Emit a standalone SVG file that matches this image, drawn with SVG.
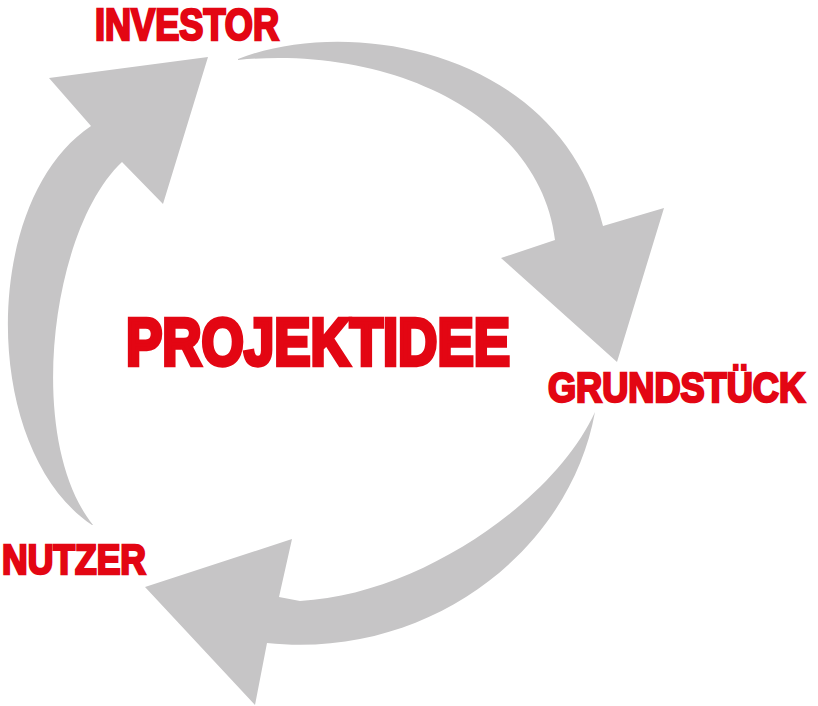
<svg xmlns="http://www.w3.org/2000/svg" width="818" height="706" viewBox="0 0 818 706">
  <style>
    .arrow { fill: #c6c5c6; stroke: none; }
    .lbl { fill: #e30613; stroke: #e30613; stroke-linejoin: miter; font-family: "Liberation Sans Narrow", "Liberation Sans", Arial, sans-serif; font-weight: bold; }
    .sm { stroke-width: 2.6px; }
    .lg { stroke-width: 4.4px; }
  </style>
  <rect width="818" height="706" fill="#ffffff"/>
  <g id="connectors">
    <path id="arrow-investor-grundstueck" class="arrow" d="M 238,59 C 350,15 560,50 603,226 L 664,208 L 617,362 L 501,258 L 555,240 C 540,115 390,45 238,60 Z"/>
    <path id="arrow-grundstueck-nutzer" class="arrow" d="M 595,412 C 570,550 430,660 267,643 L 255,705 L 145,587 L 292,539 L 279,597 L 300,601 C 420,595 555,500 595,412 Z"/>
    <path id="arrow-nutzer-investor" class="arrow" d="M 92,525 C -20,450 -20,200 91,126 L 49,78 L 208,57 L 163,204 L 122,162 C 50,230 25,440 93,525 Z"/>
  </g>
  <g id="node-investor">
    <text class="lbl sm" x="95" y="39.7" font-size="44" textLength="184" lengthAdjust="spacingAndGlyphs">INVESTOR</text>
  </g>
  <g id="node-projektidee">
    <text class="lbl lg" x="126" y="364.8" font-size="66.5" textLength="384" lengthAdjust="spacingAndGlyphs">PROJEKTIDEE</text>
  </g>
  <g id="node-grundstueck">
    <text class="lbl sm" x="548" y="401.7" font-size="42.5" textLength="257" lengthAdjust="spacingAndGlyphs">GRUNDSTÜCK</text>
  </g>
  <g id="node-nutzer">
    <text class="lbl sm" x="2" y="573.7" font-size="42.5" textLength="144" lengthAdjust="spacingAndGlyphs">NUTZER</text>
  </g>
</svg>
